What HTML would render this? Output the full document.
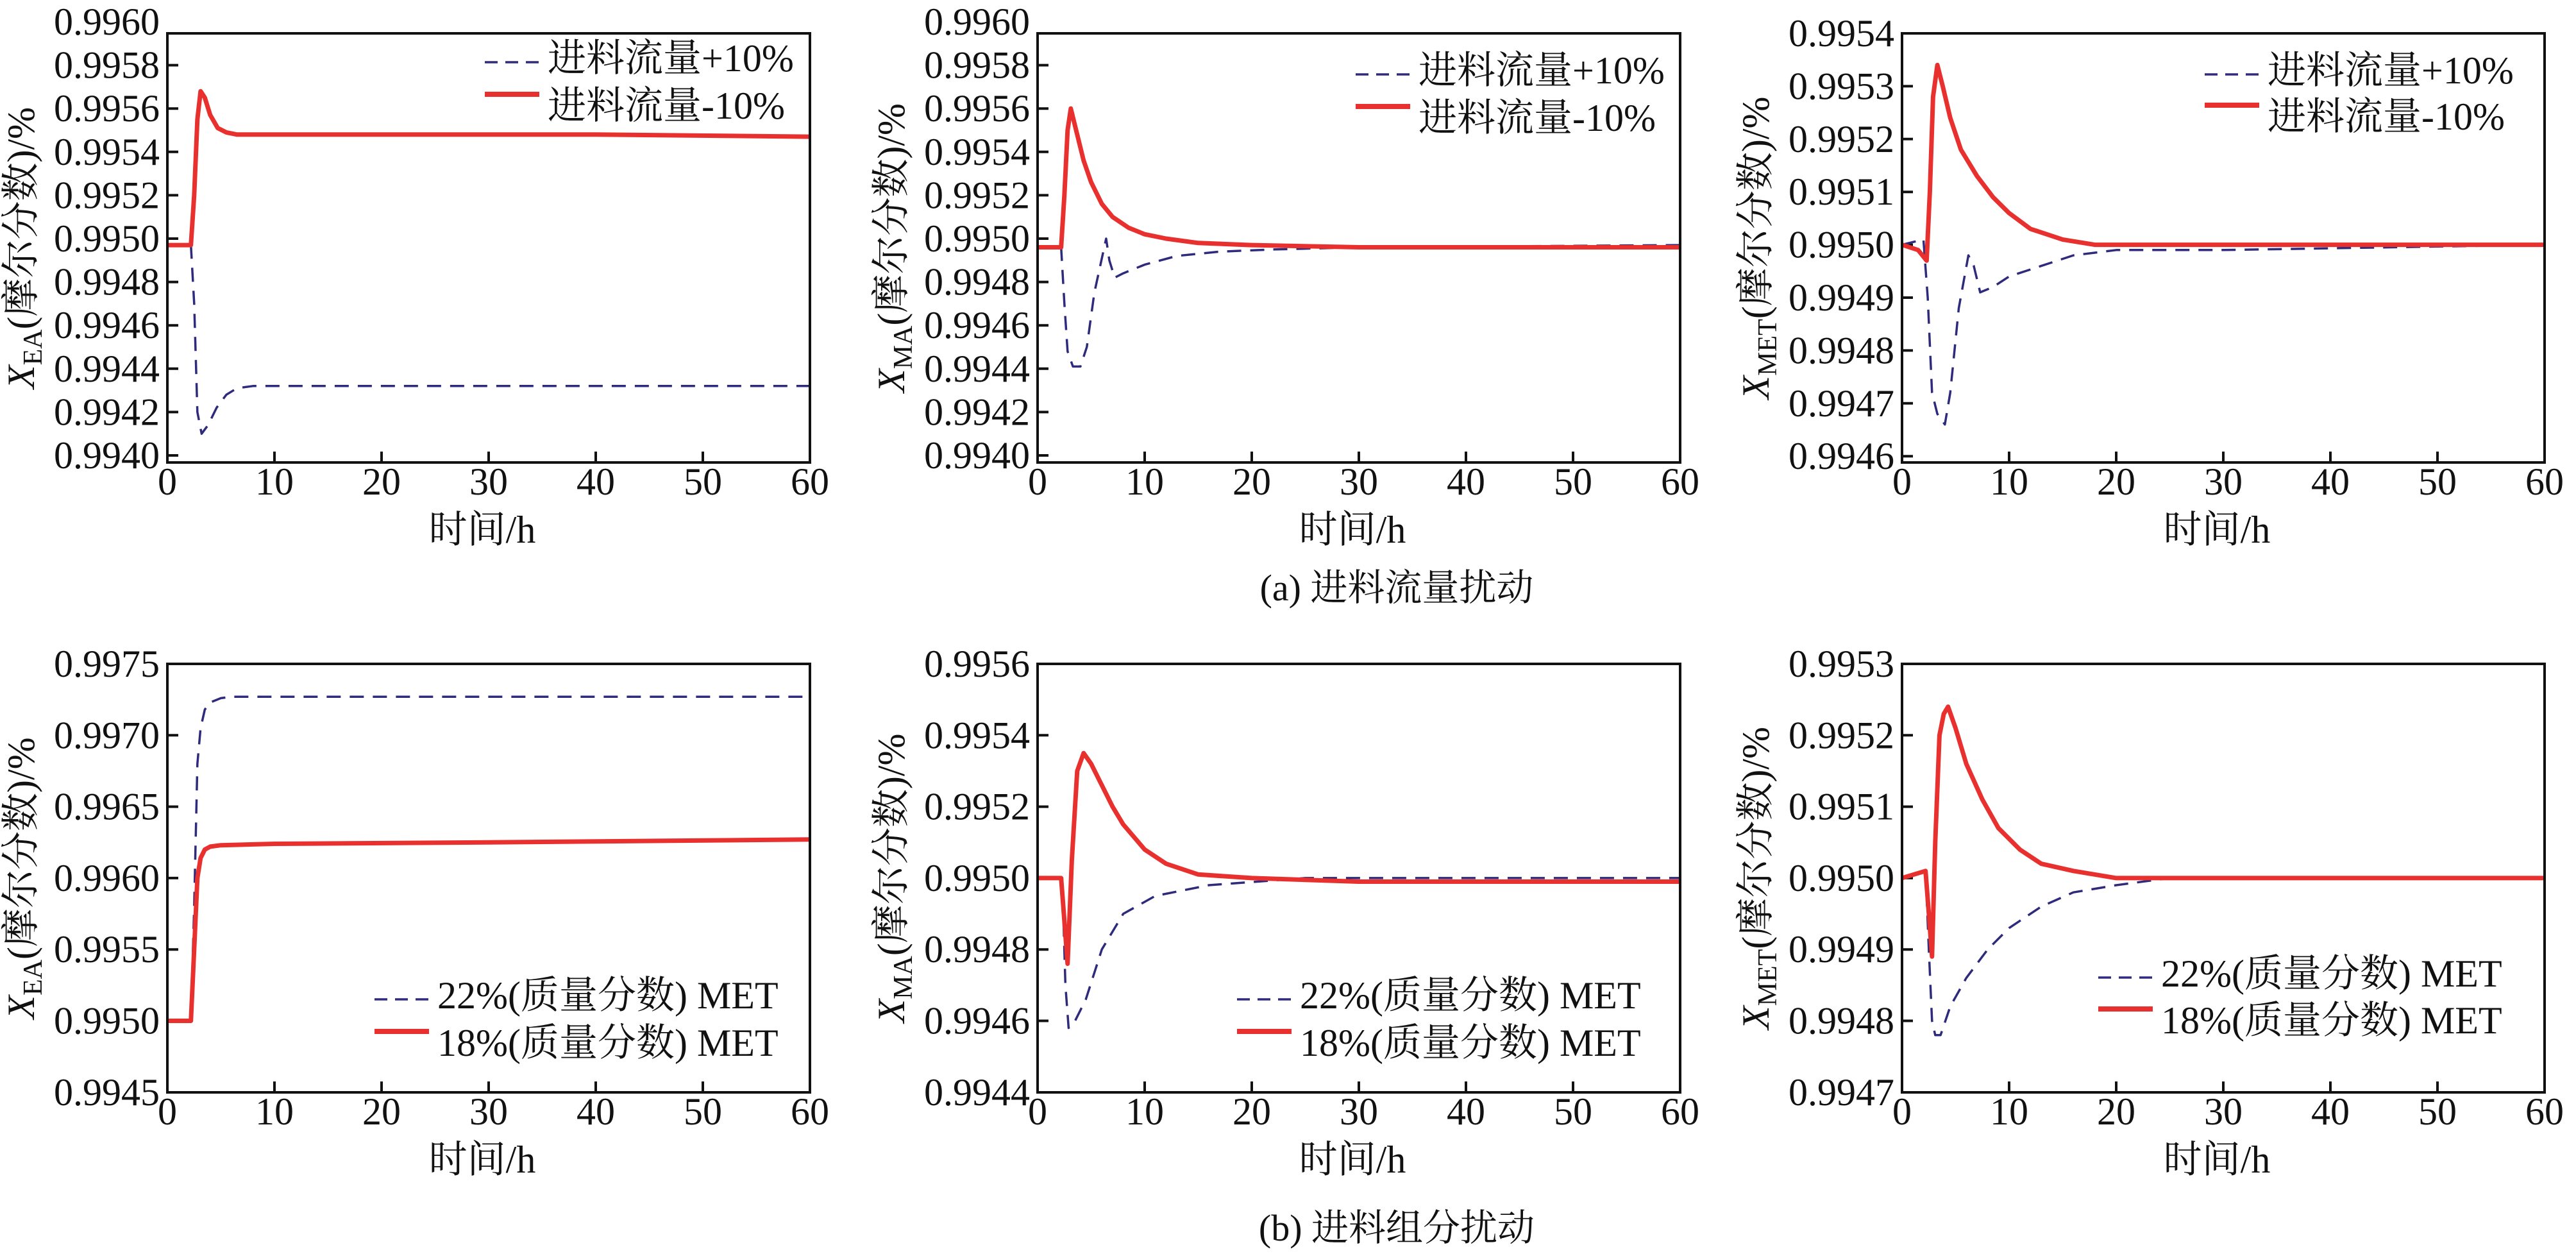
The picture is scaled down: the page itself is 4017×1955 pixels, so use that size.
<!DOCTYPE html>
<html><head><meta charset="utf-8">
<style>
html,body{margin:0;padding:0;background:#fff;}
svg{display:block;}
svg text{font-family:"Liberation Serif","Times New Roman","Noto Serif CJK SC",serif !important;fill:#111;}
</style></head>
<body>
<svg id="fig" width="4017" height="1955" viewBox="0 0 4017 1955" xmlns="http://www.w3.org/2000/svg" style="font-family:'Liberation Serif','Noto Serif CJK SC',serif" font-family="Liberation Serif, Noto Serif CJK SC, serif">
<text x="2178" y="936" font-size="58" text-anchor="middle">(a) 进料流量扰动</text>
<text x="2178" y="1934" font-size="58" text-anchor="middle">(b) 进料组分扰动</text>
</svg>
<script>
// ---- data ----
const xTicks = [0,10,20,30,40,50,60];
const p1Ticks = [0.9940,0.9942,0.9944,0.9946,0.9948,0.9950,0.9952,0.9954,0.9956,0.9958,0.9960];
const p2Ticks = [0.9940,0.9942,0.9944,0.9946,0.9948,0.9950,0.9952,0.9954,0.9956,0.9958,0.9960];
const p3Ticks = [0.9946,0.9947,0.9948,0.9949,0.9950,0.9951,0.9952,0.9953,0.9954];
const p4Ticks = [0.9945,0.9950,0.9955,0.9960,0.9965,0.9970,0.9975];
const p5Ticks = [0.9944,0.9946,0.9948,0.9950,0.9952,0.9954,0.9956];
const p6Ticks = [0.9947,0.9948,0.9949,0.9950,0.9951,0.9952,0.9953];

const p1T_blue = [0,2.2,2.5,2.8,3.2,3.8,4.6,5.5,6.5,8,20,40,60];
const p1V_blue = [0.99497,0.99497,0.99470,0.99420,0.99410,0.99414,0.99422,0.99428,0.99431,0.99432,0.99432,0.99432,0.99432];
const p1T_red = [0,2.2,2.5,2.8,3.1,3.5,4,4.7,5.5,6.5,8,20,40,60];
const p1V_red = [0.99497,0.99497,0.99520,0.99555,0.99568,0.99565,0.99557,0.99551,0.99549,0.99548,0.99548,0.99548,0.99548,0.99547];

const p2T_blue = [0,2.2,2.5,2.8,3.3,4,4.6,5.3,6.4,6.7,7.2,8,10,13,17,22,30,60];
const p2V_blue = [0.99496,0.99496,0.99470,0.99448,0.99441,0.99441,0.99450,0.99475,0.99500,0.99490,0.99482,0.99484,0.99488,0.99492,0.99494,0.99495,0.99496,0.99497];
const p2T_red = [0,2.2,2.5,2.8,3.1,3.6,4.3,5,6,7,8.5,10,12,15,20,30,60];
const p2V_red = [0.99496,0.99496,0.99520,0.99550,0.99560,0.99550,0.99536,0.99526,0.99516,0.99510,0.99505,0.99502,0.99500,0.99498,0.99497,0.99496,0.99496];

const p3T_blue = [0,2,2.4,2.8,3.3,4,4.5,5.3,6.2,6.7,7.3,8.5,10,13,16,20,30,60];
const p3V_blue = [0.99500,0.99501,0.99490,0.99472,0.99468,0.99466,0.99472,0.99488,0.99498,0.99496,0.99491,0.99492,0.99494,0.99496,0.99498,0.99499,0.99499,0.99500];
const p3T_red = [0,1.5,2.3,2.6,2.9,3.3,3.8,4.5,5.5,7,8.5,10,12,15,18,25,60];
const p3V_red = [0.99500,0.99499,0.99497,0.99510,0.99528,0.99534,0.99530,0.99524,0.99518,0.99513,0.99509,0.99506,0.99503,0.99501,0.99500,0.99500,0.99500];

const p4T_blue = [0,2.2,2.5,2.8,3.1,3.5,4,5,6,10,30,60];
const p4V_blue = [0.99500,0.99500,0.99580,0.99680,0.99705,0.99718,0.99723,0.99726,0.99727,0.99727,0.99727,0.99727];
const p4T_red = [0,2.2,2.5,2.8,3.1,3.5,4,5,10,30,60];
const p4V_red = [0.99500,0.99500,0.99550,0.99600,0.99614,0.99620,0.99622,0.99623,0.99624,0.99625,0.99627];

const p5T_blue = [0,2.3,2.6,2.9,3.5,4.5,6,8,11,16,25,60];
const p5V_blue = [0.99500,0.99500,0.99470,0.99458,0.99460,0.99466,0.99480,0.99490,0.99495,0.99498,0.99500,0.99500];
const p5T_red = [0,2.2,2.5,2.8,3.2,3.7,4.3,5,6,7,8,10,12,15,20,30,60];
const p5V_red = [0.99500,0.99500,0.99488,0.99476,0.99505,0.99530,0.99535,0.99532,0.99526,0.99520,0.99515,0.99508,0.99504,0.99501,0.99500,0.99499,0.99499];

const p6T_blue = [0,2.2,2.5,2.8,3.1,3.6,4.5,6,8,10,13,16,20,25,30,60];
const p6V_blue = [0.99500,0.99501,0.99490,0.99480,0.99478,0.99478,0.99482,0.99486,0.99490,0.99493,0.99496,0.99498,0.99499,0.99500,0.99500,0.99500];
const p6T_red = [0,2.2,2.5,2.8,3.1,3.5,3.9,4.3,5,6,7.5,9,11,13,16,20,30,60];
const p6V_red = [0.99500,0.99501,0.99495,0.99489,0.99505,0.99520,0.99523,0.99524,0.99521,0.99516,0.99511,0.99507,0.99504,0.99502,0.99501,0.99500,0.99500,0.99500];

const legA = ["进料流量+10%","进料流量-10%"];
const legB = ["22%(质量分数) MET","18%(质量分数) MET"];

const NS="http://www.w3.org/2000/svg";
const svg=document.getElementById('fig');
function mk(tag,attrs,parent){const e=document.createElementNS(NS,tag);for(const k in attrs)e.setAttribute(k,attrs[k]);(parent||svg).appendChild(e);return e;}
const FF="'Liberation Serif','Noto Serif CJK SC',serif";

const panels=[
 {id:'p1',L:261,R:1263,T:52,B:721,vTop:0.9960,yTop:34,vStep:0.0002,pxStep:67.6,ticks:p1Ticks,sub:'EA',bt:p1T_blue,bv:p1V_blue,rt:p1T_red,rv:p1V_red,leg:legA,lx:756,ly1:97,ly2:147},
 {id:'p2',L:1618,R:2620,T:52,B:721,vTop:0.9960,yTop:34,vStep:0.0002,pxStep:67.6,ticks:p2Ticks,sub:'MA',bt:p2T_blue,bv:p2V_blue,rt:p2T_red,rv:p2V_red,leg:legA,lx:2114,ly1:116,ly2:166},
 {id:'p3',L:2966,R:3968,T:52,B:721,vTop:0.9954,yTop:52,vStep:0.0001,pxStep:82.4,ticks:p3Ticks,sub:'MET',bt:p3T_blue,bv:p3V_blue,rt:p3T_red,rv:p3V_red,leg:legA,lx:3438,ly1:116,ly2:164},
 {id:'p4',L:261,R:1263,T:1035,B:1703,vTop:0.9975,yTop:1035,vStep:0.0005,pxStep:111.3,ticks:p4Ticks,sub:'EA',bt:p4T_blue,bv:p4V_blue,rt:p4T_red,rv:p4V_red,leg:legB,lx:584,ly1:1558,ly2:1608},
 {id:'p5',L:1618,R:2620,T:1035,B:1703,vTop:0.9956,yTop:1035,vStep:0.0002,pxStep:111.3,ticks:p5Ticks,sub:'MA',bt:p5T_blue,bv:p5V_blue,rt:p5T_red,rv:p5V_red,leg:legB,lx:1929,ly1:1558,ly2:1608},
 {id:'p6',L:2966,R:3968,T:1035,B:1703,vTop:0.9953,yTop:1035,vStep:0.0001,pxStep:111.3,ticks:p6Ticks,sub:'MET',bt:p6T_blue,bv:p6V_blue,rt:p6T_red,rv:p6V_red,leg:legB,lx:3272,ly1:1524,ly2:1573}
];

function txt(attrs,parent){const t=mk('text',attrs,parent);t.style.fontFamily=FF;return t;}

panels.forEach(p=>{
  const g=mk('g',{});
  
  
  const xs=t=>p.L+(t/60)*(p.R-p.L);
  const ys=v=>p.yTop+(p.vTop-v)/p.vStep*p.pxStep;
  const clip=mk('clipPath',{id:'c'+p.id},g);
  mk('rect',{x:p.L,y:p.T,width:p.R-p.L,height:p.B-p.T},clip);
  p.ticks.forEach(v=>{
    const y=ys(v);
    if(y>p.T+3&&y<p.B-3){const tk=mk('line',{x1:p.L,x2:p.L+17,y1:y,y2:y,stroke:'#111','stroke-width':4},g);
    
    }
    const tx=txt({x:p.L-12,y:y+20,'font-size':60,'text-anchor':'end'},g);
    
    
    tx.textContent=v.toFixed(4);
  });
  xTicks.forEach(t=>{
    const x=xs(t);
    if(t>0&&t<60){const tk=mk('line',{x1:x,x2:x,y1:p.B,y2:p.B-17,stroke:'#111','stroke-width':4},g);
    
    }
    const tx=txt({x:x,y:p.B+50,'font-size':60,'text-anchor':'middle'},g);
    
    
    tx.textContent=t;
  });
  const xt=txt({x:(p.L+p.R)/2-10,y:p.B+125,'font-size':60,'text-anchor':'middle'},g);
  
  
  xt.textContent='时间/h';
  const cy=(p.T+p.B)/2;
  const yt=txt({x:0,y:0,'font-size':60,'text-anchor':'middle',transform:`translate(${p.L-208},${cy}) rotate(-90)`},g);
  
  
  const a=mk('tspan',{'font-style':'italic'},yt);a.textContent='X';
  const b=mk('tspan',{'font-size':42,dy:12},yt);b.textContent=p.sub;
  const c=mk('tspan',{dy:-12},yt);c.textContent='(摩尔分数)/%';
  const path=(T,V)=>T.map((t,i)=>(i?'L':'M')+xs(t).toFixed(1)+','+ys(V[i]).toFixed(1)).join(' ');
  const pb=mk('path',{d:path(p.bt,p.bv),fill:'none',stroke:'#2e2a7c','stroke-width':3.5,'stroke-dasharray':'22 14','stroke-linejoin':'round','clip-path':`url(#c${p.id})`},g);
  
  
  const pr=mk('path',{d:path(p.rt,p.rv),fill:'none',stroke:'#e8312f','stroke-width':7,'stroke-linejoin':'round','clip-path':`url(#c${p.id})`},g);
  
  
  const fr=mk('rect',{x:p.L,y:p.T,width:p.R-p.L,height:p.B-p.T,fill:'none',stroke:'#111','stroke-width':4},g);
  
  
  const l1=mk('line',{x1:p.lx,x2:p.lx+85,y1:p.ly1,y2:p.ly1,stroke:'#2e2a7c','stroke-width':3.5,'stroke-dasharray':'20 12'},g);
  
  
  const l2=mk('line',{x1:p.lx,x2:p.lx+85,y1:p.ly2,y2:p.ly2,stroke:'#e8312f','stroke-width':8},g);
  
  
  const t1=txt({x:p.lx+98,y:p.ly1+14,'font-size':60},g);
  
  
  t1.textContent=p.leg[0];
  const t2=txt({x:p.lx+98,y:p.ly2+38,'font-size':60},g);
  
  
  t2.textContent=p.leg[1];
});
</script>
</body></html>
